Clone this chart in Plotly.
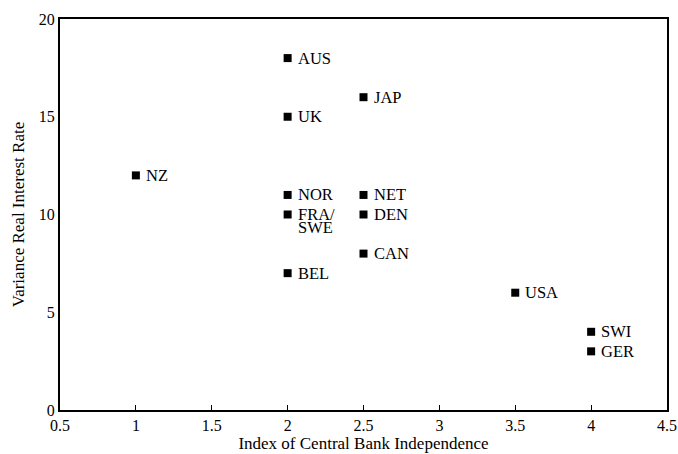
import plotly.graph_objects as go

countries = ["NZ", "AUS", "UK", "NOR", "FRA/SWE", "BEL", "JAP", "NET", "DEN", "CAN", "USA", "SWI", "GER"]
cbi_index = [1, 2, 2, 2, 2, 2, 2.5, 2.5, 2.5, 2.5, 3.5, 4, 4]
variance = [12, 18, 15, 11, 10, 7, 16, 11, 10, 8, 6, 4, 3]

x_ticks = [0.5, 1, 1.5, 2, 2.5, 3, 3.5, 4, 4.5]
y_ticks = [0, 5, 10, 15, 20]

FONT = "Liberation Serif"
LBL = dict(family=FONT, size=16.5, color="black")
TCK = dict(family=FONT, size=16, color="black")
TTL = dict(family=FONT, size=17, color="black")

fig = go.Figure()
fig.add_trace(go.Scatter(
    x=cbi_index, y=variance, mode="markers",
    marker=dict(symbol="square", size=8, color="black", line=dict(width=0)),
    showlegend=False, hoverinfo="skip",
))

for c, x, y in zip(countries, cbi_index, variance):
    parts = c.split("/")
    if len(parts) == 2:
        lines = [parts[0] + "/", parts[1]]
    else:
        lines = [c]
    for i, line in enumerate(lines):
        fig.add_annotation(
            x=x, y=y, text=line, showarrow=False,
            xanchor="left", yanchor="middle",
            xshift=8, yshift=-12.5 * i,
            font=LBL,
        )

fig.update_layout(
    width=678, height=454,
    margin=dict(l=60, r=11, t=19, b=44),
    paper_bgcolor="white", plot_bgcolor="white",
    font=TCK,
    xaxis=dict(
        range=[0.5, 4.5], tickvals=x_ticks, ticktext=[str(v) for v in x_ticks],
        ticks="inside", ticklen=5, tickcolor="black", tickfont=TCK,
        showline=True, linecolor="black", linewidth=2, mirror=True,
        showgrid=False, zeroline=False, automargin=False,
        title=dict(text="Index of Central Bank Independence", standoff=0, font=TTL),
    ),
    yaxis=dict(
        range=[0, 20], tickvals=y_ticks, tickfont=TCK,
        ticks="", showline=True, linecolor="black", linewidth=2, mirror=True,
        showgrid=False, zeroline=False, automargin=False,
        title=dict(text="Variance Real Interest Rate", standoff=10, font=TTL),
    ),
)

fig.write_html("out.html", config={"displayModeBar": False},
               post_script="document.body.style.margin='0';")
